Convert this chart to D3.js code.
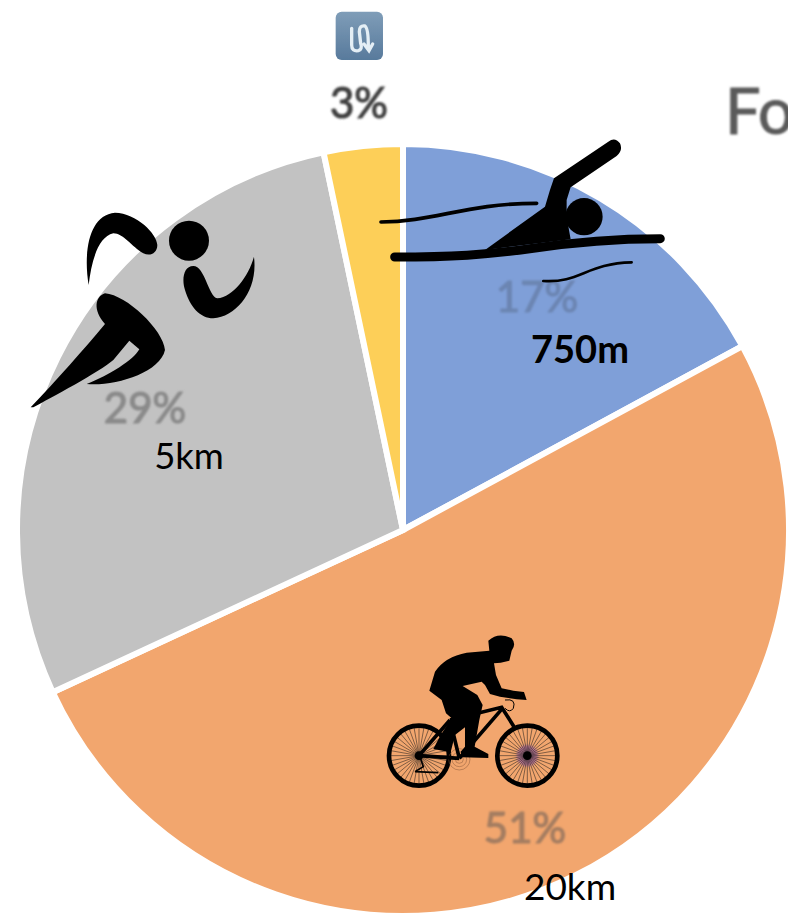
<!DOCTYPE html>
<html>
<head>
<meta charset="utf-8">
<script src="https://cdn.jsdelivr.net/npm/d3@7"></script>
<style>
  html, body { margin: 0; padding: 0; background: #fff; }
  svg { display: block; }
  text { font-family: Lato, "Open Sans", sans-serif; }
</style>
</head>
<body>
<div id="chart"></div>
<script>
const segments = ["Swim", "Bike", "Run", "Transition"];
// Measured from the slice angles in the picture, the printed labels are rounded
const shares = [17.1, 51, 28.6, 3.3];
const sliceColors = ["#7f9fd8", "#f2a66e", "#c2c2c2", "#fdcf58"];
const shareLabels = ["17%", "51%", "29%", "3%"];
const shareColors = ["#6c85b2", "#a47d61", "#8a8a8a", "#404040"];
const distanceLabels = ["750m", "20km", "5km"];

const width = 788, height = 916;
const cx = 403, cy = 530, radius = 386;

const svg = d3.select("#chart").append("svg")
  .attr("width", width)
  .attr("height", height);

const defs = svg.append("defs");
defs.append("filter").attr("id", "soft")
  .append("feGaussianBlur").attr("stdDeviation", 0.8);
defs.append("filter").attr("id", "softer")
  .append("feGaussianBlur").attr("stdDeviation", 3);
const tileGrad = defs.append("linearGradient").attr("id", "tile")
  .attr("x1", 0).attr("y1", 0).attr("x2", 0).attr("y2", 1);
tileGrad.append("stop").attr("offset", "0%").attr("stop-color", "#7f9db8");
tileGrad.append("stop").attr("offset", "100%").attr("stop-color", "#587a9c");

// Pie
const pie = d3.pie().value(d => d).sort(null);
const arc = d3.arc().innerRadius(0).outerRadius(radius);

svg.append("g")
  .attr("transform", `translate(${cx},${cy})`)
  .selectAll("path")
  .data(pie(shares))
  .enter().append("path")
  .attr("d", arc)
  .attr("fill", (d, i) => sliceColors[i])
  .attr("stroke", "#fff")
  .attr("stroke-width", 6);

// Leftover title from the source image, cut off at the right edge
svg.append("text")
  .attr("x", 725).attr("y", 134)
  .attr("font-size", 63)
  .attr("fill", "#5a5a5a")
  .attr("stroke", "#5a5a5a")
  .attr("stroke-width", 1)
  .attr("filter", "url(#soft)")
  .text("Fo");

// Percent labels, one anchor per segment
const shareAnchors = [[537, 312], [525, 843], [145, 423], [359, 118]];
svg.append("g").selectAll("text")
  .data(shareLabels)
  .enter().append("text")
  .attr("x", (d, i) => shareAnchors[i][0])
  .attr("y", (d, i) => shareAnchors[i][1])
  .attr("text-anchor", "middle")
  .attr("font-size", 42)
  .attr("font-weight", 400)
  .attr("fill", (d, i) => shareColors[i])
  .attr("stroke", (d, i) => shareColors[i])
  .attr("stroke-width", 1.2)
  .attr("filter", "url(#soft)")
  .text(d => d);

// Distance labels
const distanceAnchors = [[580, 363], [570, 900], [189, 469]];
const distanceWeights = [700, 400, 400];
const distanceSizes = [38, 37, 36.5];
svg.append("g").selectAll("text")
  .data(distanceLabels)
  .enter().append("text")
  .attr("x", (d, i) => distanceAnchors[i][0])
  .attr("y", (d, i) => distanceAnchors[i][1])
  .attr("text-anchor", "middle")
  .attr("font-size", (d, i) => distanceSizes[i])
  .attr("font-weight", (d, i) => distanceWeights[i])
  .attr("fill", "#000")
  .text(d => d);

// Transition tile above the 3% label
const tile = svg.append("g").attr("transform", "translate(320,0) scale(0.3333)");
tile.append("rect")
  .attr("x", 47).attr("y", 35).attr("width", 142).attr("height", 145).attr("rx", 18)
  .attr("fill", "url(#tile)").attr("filter", "url(#soft)");
tile.append("path")
  .attr("d", "M95,85 L95,135 Q95,155 115,152 Q128,148 122,130 L118,95 Q118,75 135,78 Q145,85 145,140 M132,132 L147,152 L158,132")
  .attr("fill", "none").attr("stroke", "#e4eef5").attr("stroke-width", 10)
  .attr("stroke-linecap", "round").attr("filter", "url(#soft)");

// Swimmer pictogram
const swim = svg.append("g").attr("transform", "translate(300,0) scale(0.3333)");
swim.append("path")
  .attr("d", "M762,535 L925,425 Q945,410 960,430 Q970,450 950,468 L812,562 L800,600 L800,650 L812,718 L555,750 L735,620 L750,570 Z")
  .attr("fill", "#000");
swim.append("circle").attr("cx", 852).attr("cy", 650).attr("r", 56).attr("fill", "#000");
swim.append("path")
  .attr("d", "M284,771 C450,771 560,765 700,745 C830,725 980,716 1081,716")
  .attr("fill", "none").attr("stroke", "#000").attr("stroke-width", 27).attr("stroke-linecap", "round");
swim.append("path")
  .attr("d", "M243,666 C400,666 500,610 710,610")
  .attr("fill", "none").attr("stroke", "#000").attr("stroke-width", 11).attr("stroke-linecap", "round");
swim.append("path")
  .attr("d", "M730,843 C840,850 860,790 995,787")
  .attr("fill", "none").attr("stroke", "#000").attr("stroke-width", 8).attr("stroke-linecap", "round");

// Runner pictogram
const run = svg.append("g").attr("transform", "translate(0,190) scale(0.3333)");
run.append("circle").attr("cx", 567).attr("cy", 152).attr("r", 60).attr("fill", "#000");
run.append("path")
  .attr("d", "M266,285 C250,190 265,75 345,68 C410,70 470,130 472,165 C472,190 450,200 430,190 C395,170 370,130 340,130 C295,140 275,210 266,285 Z")
  .attr("fill", "#000");
run.append("path")
  .attr("d", "M580,228 C550,228 545,270 555,300 C570,350 600,385 640,385 C710,380 775,300 762,200 C745,260 700,320 652,325 C625,320 615,228 580,228 Z")
  .attr("fill", "#000");
run.append("path")
  .attr("d", "M315,310 C285,320 278,360 315,402 C250,480 170,570 92,652 L100,652 C150,625 300,545 340,510 L388,452 L418,478 C400,510 330,555 260,582 C340,590 480,550 495,480 C490,420 380,315 315,310 Z")
  .attr("fill", "#000");

// Cyclist pictogram
const bike = svg.append("g").attr("transform", "translate(370,620) scale(0.3333)");
const wheelCenters = [[147, 407], [472, 407]];
const spokeAngles = d3.range(36).map(i => i * 10 * Math.PI / 180);
bike.append("circle").attr("cx", 472).attr("cy", 407).attr("r", 32)
  .attr("fill", "#8a4fb0").attr("opacity", 0.55).attr("filter", "url(#softer)");
wheelCenters.forEach(c => {
  const wheel = bike.append("g").attr("transform", `translate(${c[0]},${c[1]})`);
  wheel.selectAll("line")
    .data(spokeAngles)
    .enter().append("line")
    .attr("x1", 0).attr("y1", 0)
    .attr("x2", a => 88 * Math.cos(a))
    .attr("y2", a => 88 * Math.sin(a))
    .attr("stroke", "#1a1a1a").attr("stroke-width", 1.6);
  wheel.append("circle").attr("r", 90).attr("fill", "none").attr("stroke", "#000").attr("stroke-width", 14);
});
bike.append("circle").attr("cx", 472).attr("cy", 407).attr("r", 13).attr("fill", "#000");
bike.append("circle").attr("cx", 147).attr("cy", 407).attr("r", 13).attr("fill", "#000");
[12, 22, 32].forEach(r => {
  bike.append("circle").attr("cx", 268).attr("cy", 418).attr("r", r)
    .attr("fill", "none").attr("stroke", "#8a5a3a").attr("stroke-width", 1.5);
});
bike.append("path")
  .attr("d", "M147,407 L268,415 M147,407 L240,300 M268,415 L400,262 M240,300 L395,262 L432,320 M240,300 L268,415")
  .attr("fill", "none").attr("stroke", "#000").attr("stroke-width", 11);
bike.append("path")
  .attr("d", "M135,455 L160,440 L150,410 M135,455 L205,458")
  .attr("fill", "none").attr("stroke", "#000").attr("stroke-width", 5);
bike.append("path")
  .attr("d", "M405,240 Q440,235 430,265 Q420,280 405,265")
  .attr("fill", "none").attr("stroke", "#000").attr("stroke-width", 3);
bike.append("path")
  .attr("d", "M355,62 Q385,35 425,55 Q440,72 425,92 L418,122 L392,128 L372,130 L378,165 L395,205 L430,212 L462,216 L470,240 L440,238 L390,230 L360,222 L345,195 L335,185 L278,198 L322,225 L338,255 L328,300 L314,380 L355,402 L355,414 L278,412 L272,395 L285,380 L285,322 L255,345 L242,397 L190,387 L212,345 L245,295 L228,280 L215,240 L178,212 L195,155 Q225,110 290,98 L358,92 Z")
  .attr("fill", "#000");
</script>
</body>
</html>
